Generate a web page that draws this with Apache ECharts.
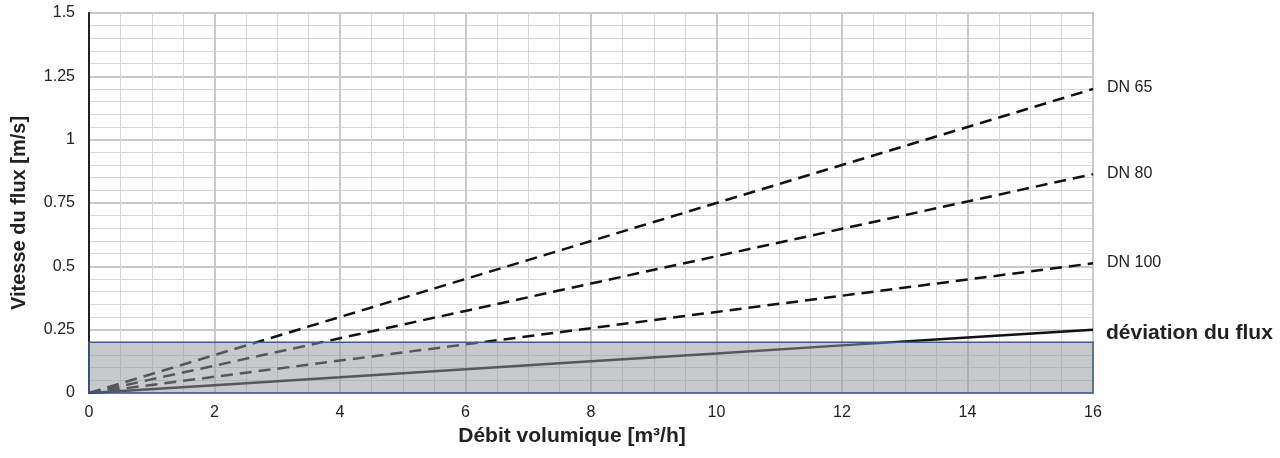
<!DOCTYPE html>
<html><head><meta charset="utf-8">
<script src="https://cdn.jsdelivr.net/npm/echarts@6/dist/echarts.min.js"></script>
<style>html,body{margin:0;padding:0;background:#fff}#c{width:1280px;height:458px}</style>
</head><body><div id="c"></div>
<script>
const flow = [0, 2, 4, 6, 8, 10, 12, 14, 16];
const dn65 = [0, 0.15, 0.30, 0.45, 0.60, 0.75, 0.90, 1.05, 1.20];
const dn80 = [0, 0.108, 0.216, 0.324, 0.432, 0.54, 0.648, 0.756, 0.864];
const dn100 = [0, 0.064, 0.128, 0.192, 0.256, 0.32, 0.384, 0.448, 0.512];
const deviation = [0, 0.031, 0.062, 0.094, 0.125, 0.156, 0.188, 0.219, 0.25];
const seriesNames = ['DN 65', 'DN 80', 'DN 100', 'déviation du flux'];
const zoneLimit = [0, 0.2];
const xTicks = {min: 0, max: 16, interval: 2};
const yTicks = {min: 0, max: 1.5, interval: 0.25};

const pairs = arr => flow.map((x, i) => [x, arr[i]]);
const txt = '#222';
const ff = 'Liberation Sans, Arial';
function dashed(name, data) {
  return {
    name, type: 'line', data: pairs(data), symbol: 'none', z: 3,
    lineStyle: {color: '#111', width: 2.5, type: [12, 7]},
    endLabel: {show: true, formatter: '{a}', color: txt, fontSize: 16, fontFamily: ff, offset: [6, -1]}
  };
}
const chart = echarts.init(document.getElementById('c'), null, {renderer: 'canvas'});
chart.setOption({
  animation: false,
  backgroundColor: '#fff',
  grid: {left: 89, right: 187, top: 13, bottom: 65, show: true, borderColor: '#444', borderWidth: 1.5},
  xAxis: {
    type: 'value', min: xTicks.min, max: xTicks.max, interval: xTicks.interval,
    name: 'Débit volumique [m³/h]', nameLocation: 'middle', nameGap: 29,
    nameTextStyle: {fontSize: 21, fontWeight: 'bold', color: txt, fontFamily: ff, padding: [0, 38, 0, 0]},
    axisLine: {show: false}, axisTick: {show: false},
    axisLabel: {fontSize: 16, color: txt, margin: 12, fontFamily: ff},
    splitLine: {lineStyle: {color: '#c9c9c9', width: 2}},
    minorTick: {show: false, splitNumber: 4},
    minorSplitLine: {show: true, lineStyle: {color: '#d6d6d6', width: 1}}
  },
  yAxis: {
    type: 'value', min: yTicks.min, max: yTicks.max, interval: yTicks.interval,
    name: 'Vitesse du flux [m/s]', nameLocation: 'middle', nameGap: 60,
    nameTextStyle: {fontSize: 20, fontWeight: 'bold', color: txt, fontFamily: ff, padding: [0, 20, 0, 0]},
    axisLine: {show: true, lineStyle: {color: '#222', width: 2}}, axisTick: {show: false},
    axisLabel: {fontSize: 16, color: txt, margin: 14, fontFamily: ff},
    splitLine: {lineStyle: {color: '#c9c9c9', width: 2}},
    minorTick: {show: false, splitNumber: 5},
    minorSplitLine: {show: true, lineStyle: {color: '#d6d6d6', width: 1}}
  },
  series: [
    dashed(seriesNames[0], dn65),
    dashed(seriesNames[1], dn80),
    dashed(seriesNames[2], dn100),
    {
      name: seriesNames[3], type: 'line', data: pairs(deviation), symbol: 'none', z: 3,
      lineStyle: {color: '#111', width: 2.5},
      endLabel: {show: true, formatter: '{a}', color: txt, fontSize: 21, fontWeight: 'bold', fontFamily: ff, offset: [5, 4]}
    },
    {
      type: 'line', data: [], z: 5, silent: true,
      markArea: {
        silent: true, z: 5,
        itemStyle: {color: 'rgba(150,152,156,0.52)', borderColor: '#3d5a92', borderWidth: 1.5},
        data: [[{coord: [xTicks.min, zoneLimit[0]]}, {coord: [xTicks.max, zoneLimit[1]]}]]
      }
    }
  ]
});
</script></body></html>
